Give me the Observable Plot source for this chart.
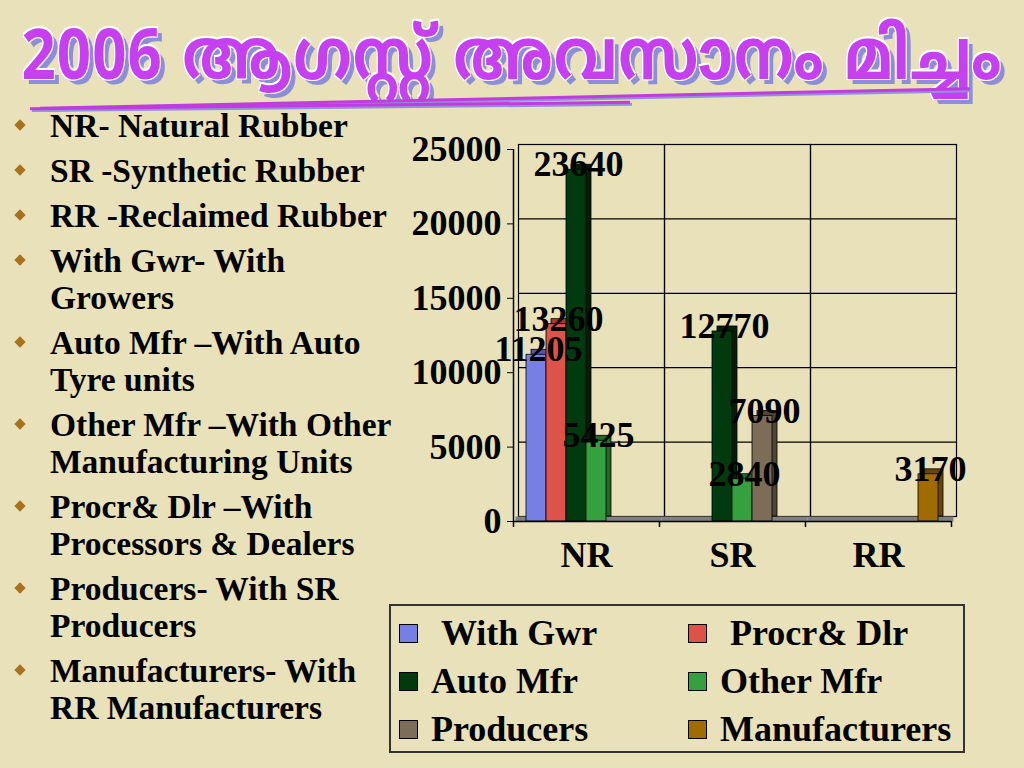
<!DOCTYPE html>
<html>
<head>
<meta charset="utf-8">
<script src="https://cdn.jsdelivr.net/npm/d3@7"></script>
<script src="https://cdn.jsdelivr.net/npm/@observablehq/plot@0.6"></script>
<style>
  html, body { margin: 0; padding: 0; }
  body { width: 1024px; height: 768px; background: #e9e1b9; position: relative; overflow: hidden;
         font-family: "Liberation Serif", "Times New Roman", serif; font-weight: bold; color: #000; }
  #title { position: absolute; left: 0; top: 22px; width: 1024px; text-align: center;
           font-family: "Noto Sans Malayalam", "Noto Sans", "DejaVu Sans", sans-serif; font-weight: bold;
           font-size: 60px; line-height: 80px; color: #c63ff0; letter-spacing: 1px;
           transform: scale(1.0, 1.18); transform-origin: 50% 50%;
           text-shadow: 1px 1px 0 #fff, -1px -1px 0 #fff, 1px -1px 0 #fff, -1px 1px 0 #fff, 5px 5px 0 #8d8fd6; }
  .uline { position: absolute; height: 3px; background: #c23be0; box-shadow: 2px 2px 0 #9093d8; }
  #list { position: absolute; left: 0; top: 107px; width: 400px; font-size: 33.5px; line-height: 37px; }
  .item { position: relative; padding-left: 50px; margin-bottom: 8px; white-space: nowrap; }
  .item .dia { position: absolute; left: 16px; top: 14px; width: 8px; height: 8px; background: #a8721c; transform: rotate(45deg); }
  #chart { position: absolute; left: 390px; top: 120px; }
  #legend { position: absolute; left: 389px; top: 604px; width: 572px; height: 145px; border: 2px solid #333; }
  .li { position: absolute; font-size: 36px; line-height: 40px; white-space: nowrap; }
  .sw { position: absolute; width: 17px; height: 17px; border: 1px solid #000; }
</style>
</head>
<body>
<div id="title">2006 ആഗസ്റ്റ് അവസാനം മിച്ചം</div>
<div class="uline" style="left:40px; top:97px; width:930px; transform: rotate(-1.2deg);"></div>
<div class="uline" style="left:30px; top:104px; width:600px; transform: rotate(-0.6deg);"></div>
<div id="list"></div>
<div id="chart"></div>
<div id="legend"></div>
<script>
const categories = ["NR", "SR", "RR"];
const series = ["With Gwr", "Procr& Dlr", "Auto Mfr", "Other Mfr", "Producers", "Manufacturers"];
const nrValues = [11205, 13260, 23640, 5425, 0, 0];
const srValues = [0, 0, 12770, 2840, 7090, 0];
const rrValues = [0, 0, 0, 0, 0, 3170];
const yTicks = [0, 5000, 10000, 15000, 20000, 25000];
const colors = ["#7680e2", "#dd5349", "#013a0f", "#34a03e", "#7b6d58", "#a06b00"];
const sideColors = ["#4f56b0", "#a8372f", "#001f06", "#1f6a27", "#4f4535", "#6a4600"];
const notes = [
  ["NR- Natural Rubber"],
  ["SR -Synthetic Rubber"],
  ["RR -Reclaimed Rubber"],
  ["With Gwr- With", "Growers"],
  ["Auto Mfr \u2013With Auto", "Tyre units"],
  ["Other Mfr \u2013With Other", "Manufacturing Units"],
  ["Procr& Dlr \u2013With", "Processors & Dealers"],
  ["Producers- With SR", "Producers"],
  ["Manufacturers- With", "RR Manufacturers"]
];

// left list
const list = document.getElementById("list");
for (const lines of notes) {
  const d = document.createElement("div");
  d.className = "item";
  d.innerHTML = '<span class="dia"></span>' + lines.map(s => s.replace(/&/g, "&amp;")).join("<br>");
  list.appendChild(d);
}

// data table
const valuesByCat = [nrValues, srValues, rrValues];
const data = [];
categories.forEach((c, i) => series.forEach((s, j) => {
  const v = valuesByCat[i][j];
  if (v > 0) data.push({cat: c, series: s, value: v});
}));
const sideColor = s => sideColors[series.indexOf(s)];
const firstSlot = categories.map(c => ({c, s: series[0]}));
const lastSlot = [{c: categories[categories.length - 1], s: series[series.length - 1]}];

const chart = Plot.plot({
  width: 580,
  height: 460,
  marginLeft: 122,
  marginRight: 18,
  marginTop: 29,
  marginBottom: 59,
  style: {background: "transparent", fontFamily: "'Liberation Serif', 'Times New Roman', serif",
          fontWeight: "bold", fontSize: "36px", color: "#000", overflow: "visible"},
  fx: {domain: categories, padding: 0, label: null, axis: "bottom", tickSize: 0, tickPadding: 20},
  x: {domain: series, axis: null, paddingInner: 0, paddingOuter: 0.65},
  y: {domain: [0, 25000], ticks: yTicks, label: null, tickSize: 6, tickPadding: 6, tickFormat: d => String(d)},
  color: {domain: series, range: colors},
  marks: [
    Plot.frame({dx: 5, dy: -5, stroke: "#000", strokeWidth: 1.2}),
    Plot.gridY(yTicks, {stroke: "#000", strokeOpacity: 1, strokeWidth: 1.2, dx: 5, dy: -5}),
    Plot.ruleY([0], {stroke: "#7f7f7f", strokeWidth: 5, dx: 2.5, dy: -2.5}),
    Plot.barY(data, {fx: "cat", x: "series", y: "value", fill: d => sideColor(d.series), stroke: "#000", strokeWidth: 0.8, dx: 5, dy: -5}),
    Plot.barY(data, {fx: "cat", x: "series", y: "value", fill: "series", stroke: "#000", strokeWidth: 0.8}),
    Plot.ruleY([0], {stroke: "#000", strokeWidth: 1.5}),
    Plot.ruleX([firstSlot[0]], {fx: "c", x: "s", y1: 0, y2: 25000, dx: -23, stroke: "#000", strokeWidth: 1.5}),
    Plot.ruleX(firstSlot, {fx: "c", x: "s", y1: 0, y2: 0, insetBottom: -6, dx: -23, stroke: "#000", strokeWidth: 1.5}),
    Plot.ruleX(lastSlot, {fx: "c", x: "s", y1: 0, y2: 0, insetBottom: -6, dx: 23, stroke: "#000", strokeWidth: 1.5}),
    Plot.text(data, {fx: "cat", x: "series", y: "value", text: d => String(d.value), dx: 2, dy: -5,
                     fontSize: 36, fontWeight: "bold", fill: "#000"})
  ]
});
document.getElementById("chart").appendChild(chart);

// legend
const legend = document.getElementById("legend");
series.forEach((s, i) => {
  const col = i % 2, row = Math.floor(i / 2);
  const sx = col === 0 ? 8 : 297;
  const cy = 27 + row * 48;
  const sw = document.createElement("div");
  sw.className = "sw";
  sw.style.left = sx + "px";
  sw.style.top = (cy - 9) + "px";
  sw.style.background = colors[i];
  legend.appendChild(sw);
  const t = document.createElement("div");
  t.className = "li";
  t.textContent = s;
  t.style.left = (sx + 32 + (row === 0 ? 10 : 0)) + "px";
  t.style.top = (cy - 20) + "px";
  legend.appendChild(t);
});
</script>
</body>
</html>
